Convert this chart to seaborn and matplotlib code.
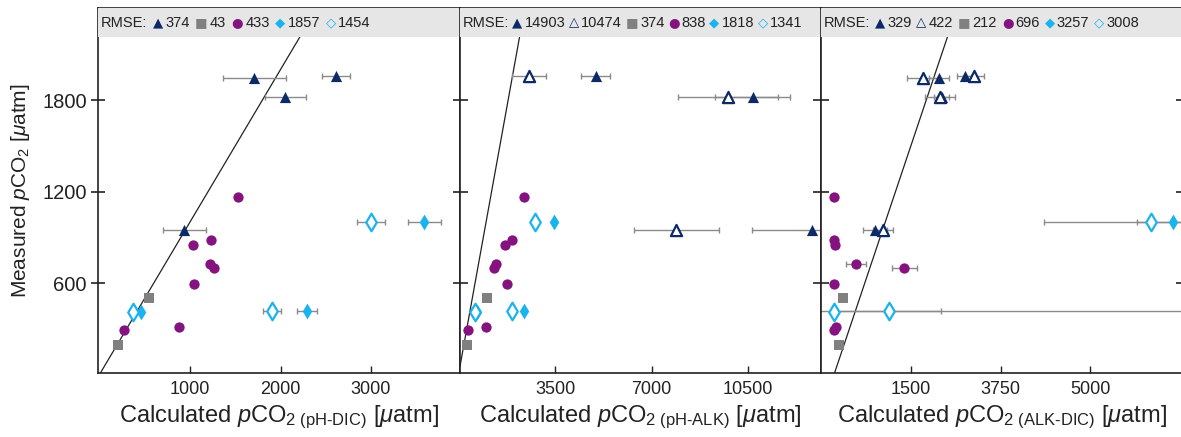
import seaborn as sns
import matplotlib.pyplot as plt
import numpy as np

## measured pCO2 (y) for each sample group
tri_meas = [1945, 1958, 1818, 950]
sq_meas = [500, 195]
circ_meas = [1162, 882, 851, 722, 696, 593, 313, 292]
dia_meas = [1000, 416, 412]

## panel 1 : pH-DIC
tri_dic = [1711, 2610, 2053, 937]
tri_dic_err = [345, 157, 225, 236]
sq_dic = [547, 208]
circ_dic = [1534, 1236, 1037, 1221, 1265, 1048, 882, 274]
dia_dic = [3590, 2289, 455]
dia_dic_err = [184, 110, 0]
dia_dic_open = [2997, 1906, 367]
dia_dic_open_err = [153, 100, 0]

## panel 2 : pH-ALK
tri_alk = [15500, 4976, 10670, 12810]
tri_alk_err = [1500, 530, 1370, 2180]
tri_alk_open = [15000, 2557, 9763, 7889]
tri_alk_open_err = [1500, 606, 1813, 1542]
sq_alk = [1045, 297]
circ_alk = [2376, 1952, 1687, 1360, 1288, 1770, 997, 356]
dia_alk = [3475, 2388, 660]
dia_alk_open = [2775, 1952, 598]

## panel 3 : ALK-DIC
tri_ad = [2040, 2548, 2100, 802]
tri_ad_err = [195, 150, 150, 241]
tri_ad_open = [1727, 2731, 2072, 958]
tri_ad_open_err = [294, 188, 290, 200]
sq_ad = [182, 98]
circ_ad = [0, 0, 10, 430, 1375, 0, 33, 0]
circ_ad_err = [0, 0, 0, 195, 245, 0, 0, 0]
dia_ad = [6621, 7400, 0]
dia_ad_err = [700, 7700, 0]
dia_ad_open = [6178, 1075, 0]
dia_ad_open_err = [2086, 1017, 0]

rmse_dic = ['374', '43', '433', '1857', '1454']
rmse_alk = ['14903', '10474', '374', '838', '1818', '1341']
rmse_ad = ['329', '422', '212', '696', '3257', '3008']

xticks_dic = [1000, 2000, 3000]
xticks_alk = [3500, 7000, 10500]
xticks_ad = [1500, 3250, 5000]
xticklabels_ad = ['1500', '3750', '5000']
yticks = [600, 1200, 1800]

NAVY = '#0c2a66'
GREY = '#808080'
PURPLE = '#84137f'
CYAN = '#19b3ee'
INK = '#222222'

sns.set_style('ticks')
FONT = 'Liberation Sans'
plt.rcParams['font.family'] = [FONT, 'DejaVu Sans']
plt.rcParams['mathtext.fontset'] = 'custom'
plt.rcParams['mathtext.rm'] = FONT
plt.rcParams['mathtext.it'] = FONT + ':italic'


def draw(ax, x, y, marker, color, s, xerr=None, hollow=False):
    if xerr is not None:
        ax.errorbar(x, y, xerr=xerr, fmt='none', ecolor='#8a8a8a', elinewidth=1,
                    capsize=2, capthick=1, zorder=2)
    if hollow:
        sns.scatterplot(x=x, y=y, ax=ax, marker=marker, s=s, color='white',
                        edgecolor=color, linewidth=1.6, zorder=4)
    else:
        sns.scatterplot(x=x, y=y, ax=ax, marker=marker, s=s, color=color,
                        edgecolor=color, linewidth=0, zorder=4)


def header(ax, items, gap):
    t = ax.annotate('RMSE:', xy=(0.007, 0.96), xycoords='axes fraction', va='center',
                    ha='left', fontsize=10.5, color=INK, zorder=6, annotation_clip=False)
    for sym, col, val in items:
        t = ax.annotate(sym, xy=(1, 0.5), xycoords=t, xytext=(gap, 0), textcoords='offset points',
                        va='center', ha='left', fontsize=9.5, color=col, family=['DejaVu Sans'],
                        fontweight='bold', zorder=6, annotation_clip=False)
        t = ax.annotate(val, xy=(1, 0.5), xycoords=t, xytext=(1.5, 0), textcoords='offset points',
                        va='center', ha='left', fontsize=10.5, color=INK, zorder=6,
                        annotation_clip=False)


fig = plt.figure(figsize=(11.81, 4.37), dpi=100)
bottom, height = 0.1465, 0.835
ax1 = fig.add_axes([0.0834, bottom, 0.3061, height])
ax2 = fig.add_axes([0.3895, bottom, 0.3057, height])
ax3 = fig.add_axes([0.6952, bottom, 0.3070, height])

# panel 1
draw(ax1, tri_dic, tri_meas, '^', NAVY, 65, tri_dic_err)
draw(ax1, sq_dic, sq_meas, 's', GREY, 42)
draw(ax1, circ_dic, circ_meas, 'o', PURPLE, 55)
draw(ax1, dia_dic, dia_meas, 'd', CYAN, 65, dia_dic_err)
draw(ax1, dia_dic_open, dia_meas, 'd', CYAN, 80, dia_dic_open_err, hollow=True)
header(ax1, [('\u25b2', NAVY, rmse_dic[0]), ('\u25a0', GREY, rmse_dic[1]),
             ('\u25cf', PURPLE, rmse_dic[2]), ('\u25c6', CYAN, rmse_dic[3]),
             ('\u25c7', CYAN, rmse_dic[4])], 4)

# panel 2
draw(ax2, tri_alk, tri_meas, '^', NAVY, 65, tri_alk_err)
draw(ax2, tri_alk_open, tri_meas, '^', NAVY, 65, tri_alk_open_err, hollow=True)
draw(ax2, sq_alk, sq_meas, 's', GREY, 42)
draw(ax2, circ_alk, circ_meas, 'o', PURPLE, 55)
draw(ax2, dia_alk, dia_meas, 'd', CYAN, 65)
draw(ax2, dia_alk_open, dia_meas, 'd', CYAN, 80, hollow=True)
header(ax2, [('\u25b2', NAVY, rmse_alk[0]), ('\u25b3', NAVY, rmse_alk[1]),
             ('\u25a0', GREY, rmse_alk[2]), ('\u25cf', PURPLE, rmse_alk[3]),
             ('\u25c6', CYAN, rmse_alk[4]), ('\u25c7', CYAN, rmse_alk[5])], 2.5)

# panel 3
draw(ax3, tri_ad, tri_meas, '^', NAVY, 65, tri_ad_err)
draw(ax3, tri_ad_open, tri_meas, '^', NAVY, 65, tri_ad_open_err, hollow=True)
draw(ax3, sq_ad, sq_meas, 's', GREY, 42)
draw(ax3, circ_ad, circ_meas, 'o', PURPLE, 55, circ_ad_err)
draw(ax3, dia_ad, dia_meas, 'd', CYAN, 65, dia_ad_err)
draw(ax3, dia_ad_open, dia_meas, 'd', CYAN, 80, dia_ad_open_err, hollow=True)
header(ax3, [('\u25b2', NAVY, rmse_ad[0]), ('\u25b3', NAVY, rmse_ad[1]),
             ('\u25a0', GREY, rmse_ad[2]), ('\u25cf', PURPLE, rmse_ad[3]),
             ('\u25c6', CYAN, rmse_ad[4]), ('\u25c7', CYAN, rmse_ad[5])], 3.5)

limits = [(-11, 3983), (54, 13148), (-254, 6823)]
ticks = [(xticks_dic, None), (xticks_alk, None), (xticks_ad, xticklabels_ad)]
labels = ['pH\u2010DIC', 'pH\u2010ALK', 'ALK\u2010DIC']

for i, ax in enumerate([ax1, ax2, ax3]):
    ax.axline((0, 0), slope=1, color=INK, lw=0.9, zorder=1)
    ax.axhspan(2213, 2500, color='#e6e6e6', lw=0, zorder=3)
    ax.set_xlim(*limits[i])
    ax.set_ylim(10, 2403)
    tk, tl = ticks[i]
    if tl is None:
        ax.set_xticks(tk)
    else:
        ax.set_xticks(tk, tl)
    ax.set_yticks(yticks)
    for sp in ax.spines.values():
        sp.set_visible(True)
        sp.set_linewidth(1.2)
        sp.set_color(INK)
    ax.tick_params(axis='x', direction='in', length=5, width=1, labelsize=13, pad=6, colors=INK)
    ax.tick_params(axis='y', direction='in', left=True, right=True, length=6, width=1.2,
                   labelsize=14.5, colors=INK)
    ax.set_xlabel(r'Calculated $p$CO$_{2\ \mathrm{(' + labels[i] + ')}}$ [$\mu$atm]',
                  fontsize=17, color=INK, labelpad=4)
    if i > 0:
        ax.set_yticklabels([])
        ax.set_ylabel('')

ax1.tick_params(axis='y', which='both', left=True, direction='inout', length=10)
ax1.set_ylabel(r'Measured $p$CO$_2$ [$\mu$atm]', fontsize=15, color=INK, labelpad=7)

fig.savefig('out.png', dpi=100)
